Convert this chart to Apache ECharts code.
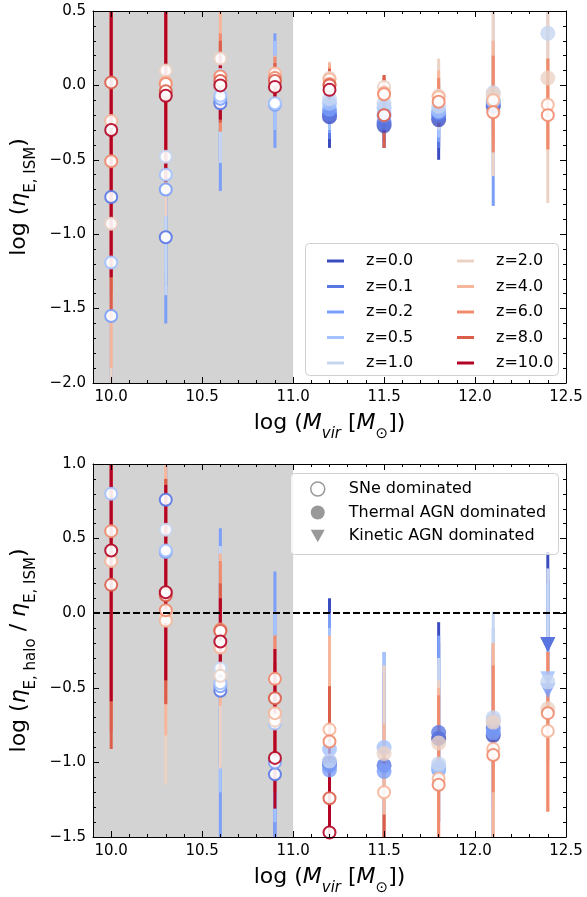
<!DOCTYPE html>
<html>
<head>
<meta charset="utf-8">
<script src="https://cdn.jsdelivr.net/npm/echarts@6/dist/echarts.min.js"></script>
<style>
html, body { margin: 0; padding: 0; background: #fff; }
#chart { width: 587px; height: 897px; }
</style>
</head>
<body>
<div id="chart"></div>
<script>
// redshift labels and their coolwarm colours
const redshifts = ['z=0.0', 'z=0.1', 'z=0.2', 'z=0.5', 'z=1.0', 'z=2.0', 'z=4.0', 'z=6.0', 'z=8.0', 'z=10.0']
const zColors = ['#3b4cc0', '#5a78e4', '#7b9ff9', '#a3c2fe', '#c6d6f1', '#ebd2c4', '#f6b69b', '#f08b6e', '#dc5d4a', '#b40426']

// axis ticks
const xMajorTicks = [10.0, 10.5, 11.0, 11.5, 12.0, 12.5]
const shadedRange = [9.9, 11.0]

// rows: [log Mvir, value, lower, upper, kind]  kind: S = SNe, T = thermal AGN, K = kinetic AGN
// top panel: log eta_E,ISM
const ismZ00 = [[11.2, -0.21, -0.42, -0.10, 'T'], [11.5, -0.27, -0.42, -0.15, 'T'], [11.8, -0.23, -0.50, -0.10, 'T'], [12.1, -0.14, -0.30, 0.00, 'T']]
const ismZ01 = [[10.0, -0.75, -1.45, -0.10, 'S'], [10.3, -1.02, -1.35, -0.60, 'S'], [10.6, -0.12, -0.50, 0.20, 'S'], [11.2, -0.19, -0.36, -0.05, 'T'], [11.5, -0.25, -0.38, -0.12, 'T'], [11.8, -0.20, -0.42, -0.05, 'T'], [12.1, -0.13, -0.35, 0.05, 'T']]
const ismZ02 = [[10.0, -1.55, -2.10, -1.00, 'S'], [10.3, -0.70, -1.60, -0.30, 'S'], [10.6, -0.09, -0.71, 0.25, 'S'], [10.9, -0.13, -0.42, 0.35, 'S'], [11.2, -0.16, -0.32, -0.02, 'T'], [11.5, -0.20, -0.35, -0.08, 'T'], [11.8, -0.18, -0.38, 0.00, 'T'], [12.1, -0.11, -0.81, 0.20, 'T']]
const ismZ05 = [[10.0, -1.19, -1.80, -0.60, 'S'], [10.3, -0.60, -1.25, -0.20, 'S'], [10.6, -0.07, -0.52, 0.30, 'S'], [10.9, -0.12, -0.30, 0.30, 'S'], [11.2, -0.12, -0.30, 0.00, 'T'], [11.5, -0.15, -0.30, -0.05, 'T'], [11.8, -0.17, -0.35, 0.02, 'T'], [12.1, -0.10, -0.60, 0.30, 'T']]
const ismZ10 = [[10.3, -0.48, -1.41, 0.00, 'S'], [10.6, 0.07, -0.52, 0.30, 'S'], [11.2, -0.09, -0.25, 0.02, 'T'], [11.5, -0.12, -0.25, 0.00, 'T'], [11.8, -0.14, -0.30, 0.05, 'T'], [12.1, -0.05, -0.60, 0.50, 'T'], [12.4, 0.35, 0.00, 0.60, 'T']]
const ismZ20 = [[10.0, -0.93, -2.50, 0.30, 'S'], [10.3, 0.10, -0.88, 0.60, 'S'], [10.6, 0.18, -0.30, 0.60, 'S'], [11.2, 0.05, -0.05, 0.16, 'S'], [11.5, -0.01, -0.20, 0.07, 'S'], [11.8, -0.07, -0.20, 0.18, 'S'], [12.1, -0.06, -0.61, 0.70, 'T'], [12.4, 0.05, -0.79, 0.70, 'T']]
const ismZ40 = [[10.0, -0.24, -1.90, 0.50, 'S'], [10.3, 0.02, -0.70, 0.55, 'S'], [10.6, 0.06, -0.31, 0.50, 'S'], [10.9, 0.08, -0.10, 0.20, 'S'], [11.2, 0.04, -0.10, 0.15, 'S'], [11.5, -0.05, -0.30, 0.06, 'S'], [11.8, -0.08, -0.25, 0.10, 'S'], [12.1, -0.10, -0.40, 0.30, 'S'], [12.4, -0.13, -0.43, 0.18, 'S']]
const ismZ60 = [[10.0, -0.51, -1.40, 0.60, 'S'], [10.3, 0.01, -0.60, 0.55, 'S'], [10.6, 0.06, -0.31, 0.35, 'S'], [10.9, 0.05, -0.10, 0.19, 'S'], [11.2, 0.01, -0.10, 0.12, 'S'], [11.5, -0.06, -0.30, 0.05, 'S'], [11.8, -0.11, -0.28, 0.05, 'S'], [12.1, -0.18, -0.45, 0.20, 'S'], [12.4, -0.20, -0.43, 0.18, 'S']]
const ismZ80 = [[10.0, 0.02, -1.57, 0.80, 'S'], [10.3, -0.04, -0.65, 0.60, 'S'], [10.6, 0.03, -0.25, 0.30, 'S'], [10.9, 0.03, -0.09, 0.15, 'S'], [11.2, 0.00, -0.09, 0.11, 'S'], [11.5, -0.20, -0.42, 0.07, 'S']]
const ismZ100 = [[10.0, -0.30, -1.29, 0.90, 'S'], [10.3, -0.07, -0.65, 0.70, 'S'], [10.6, 0.00, -0.23, 0.20, 'S'], [10.9, -0.01, -0.09, 0.12, 'S'], [11.2, -0.03, -0.09, 0.07, 'S']]

// bottom panel: log eta_E,halo / eta_E,ISM
const ratioZ00 = [[11.2, -1.00, -1.60, 0.10, 'T'], [11.8, -0.84, -1.20, -0.06, 'T'], [12.1, -0.82, -1.60, -0.20, 'T'], [12.4, -0.21, -0.50, 0.41, 'K']]
const ratioZ01 = [[10.0, 1.08, 0.50, 1.50, 'S'], [10.3, 0.76, 0.20, 1.20, 'S'], [10.6, -0.52, -1.00, 0.30, 'S'], [10.9, -1.08, -1.60, -0.30, 'S'], [11.2, -1.02, -1.50, -0.10, 'T'], [11.5, -1.02, -1.50, -0.40, 'T'], [11.8, -0.80, -1.10, -0.20, 'T'], [12.1, -0.77, -1.30, -0.30, 'T'], [12.4, -0.21, -0.50, 0.22, 'K']]
const ratioZ02 = [[10.3, 0.41, -0.20, 1.00, 'S'], [10.6, -0.49, -1.60, 0.57, 'S'], [10.9, -1.00, -1.60, 0.28, 'S'], [11.2, -1.05, -1.60, 0.00, 'T'], [11.5, -1.06, -1.50, -0.26, 'T'], [11.8, -1.05, -1.40, -0.15, 'T'], [12.1, -0.80, -1.50, -0.25, 'T'], [12.4, -0.52, -0.80, -0.10, 'K']]
const ratioZ05 = [[10.0, 0.80, 0.30, 1.30, 'S'], [10.3, 0.42, -0.10, 0.90, 'S'], [10.6, -0.47, -1.20, 0.40, 'S'], [10.9, -0.74, -1.40, 0.00, 'S'], [11.2, -0.91, -1.50, -0.10, 'T'], [11.5, -0.90, -1.50, -0.26, 'T'], [11.8, -1.03, -1.40, -0.33, 'T'], [12.1, -0.72, -1.50, -0.10, 'T'], [12.4, -0.44, -0.70, 0.20, 'K']]
const ratioZ10 = [[10.3, 0.56, 0.00, 1.05, 'S'], [10.6, -0.37, -1.00, 0.45, 'S'], [11.2, -0.99, -1.50, -0.20, 'T'], [11.8, -1.01, -1.40, -0.30, 'T'], [12.1, -0.70, -1.60, 0.01, 'T'], [12.4, -0.46, -0.80, 0.30, 'T']]
const ratioZ20 = [[10.3, -0.02, -1.15, 1.20, 'S'], [10.6, -0.42, -1.04, 0.30, 'S'], [10.9, -0.72, -1.20, -0.20, 'S'], [11.5, -0.94, -1.60, -0.35, 'T'], [11.8, -0.87, -1.40, -0.45, 'T'], [12.1, -0.73, -1.60, -0.20, 'T'], [12.4, -0.64, -1.00, -0.30, 'T']]
const ratioZ40 = [[10.0, 0.35, -0.50, 1.10, 'S'], [10.3, -0.05, -0.82, 1.10, 'S'], [10.6, -0.23, -0.62, 0.40, 'S'], [10.9, -0.67, -1.10, -0.15, 'S'], [11.2, -0.78, -1.60, -0.15, 'S'], [11.5, -1.20, -1.60, -0.74, 'S'], [11.8, -1.11, -1.60, -0.50, 'S'], [12.1, -0.91, -1.60, -0.20, 'S'], [12.4, -0.79, -1.33, -0.26, 'S']]
const ratioZ60 = [[10.0, 0.55, -0.80, 1.20, 'S'], [10.3, 0.02, -0.60, 0.90, 'S'], [10.6, -0.11, -0.50, 0.35, 'S'], [10.9, -0.44, -1.00, -0.15, 'S'], [11.2, -0.86, -1.60, -0.49, 'S'], [11.8, -1.15, -1.60, -0.55, 'S'], [12.1, -0.95, -1.20, -0.35, 'S'], [12.4, -0.67, -1.33, -0.26, 'S']]
const ratioZ80 = [[10.0, 0.19, -0.91, 1.20, 'S'], [10.3, 0.12, -0.61, 0.90, 'S'], [10.6, -0.12, -0.50, 0.20, 'S'], [10.9, -0.57, -1.20, -0.33, 'S'], [11.2, -1.24, -1.60, -0.49, 'S'], [11.5, -1.60, -1.80, -1.35, 'S']]
const ratioZ100 = [[10.0, 0.42, -0.59, 1.20, 'S'], [10.3, 0.14, -0.45, 0.86, 'S'], [10.6, -0.19, -0.45, 0.10, 'S'], [10.9, -0.97, -1.31, -0.24, 'S'], [11.2, -1.47, -1.60, -0.85, 'S']]

const ismRows = [ismZ00, ismZ01, ismZ02, ismZ05, ismZ10, ismZ20, ismZ40, ismZ60, ismZ80, ismZ100]
const ratioRows = [ratioZ00, ratioZ01, ratioZ02, ratioZ05, ratioZ10, ratioZ20, ratioZ40, ratioZ60, ratioZ80, ratioZ100]

const markerKinds = ['SNe dominated', 'Thermal AGN dominated', 'Kinetic AGN dominated']

const FONT = 'DejaVu Sans'
const X_MIN = 9.9
const X_MAX = 12.5
const xMinorTicks = []
for (let k = 99; k <= 125; k++) xMinorTicks.push(k / 10)

const fmt = v => (v < 0 ? '\u2212' : '') + Math.abs(v).toFixed(1)

const titleRich = {
  n: { fontSize: 22, lineHeight: 30, verticalAlign: 'top', fontFamily: FONT, color: '#000' },
  i: { fontSize: 22, lineHeight: 30, verticalAlign: 'top', fontStyle: 'italic', fontFamily: FONT, color: '#000' },
  s: { fontSize: 15, lineHeight: 16, verticalAlign: 'bottom', fontFamily: FONT, color: '#000' },
  si: { fontSize: 15, lineHeight: 16, verticalAlign: 'bottom', fontStyle: 'italic', fontFamily: FONT, color: '#000' }
}
const xTitle = '{n|log (}{i|M}{si|vir}{n| [}{i|M}{s|\u2299}{n|])}'

function xAxes(g) {
  const base = { gridIndex: g, type: 'value', min: X_MIN, max: X_MAX, z: 10, splitLine: { show: false } }
  const line = { show: true, onZero: false, lineStyle: { color: '#000', width: 1 } }
  const noLine = { show: false, onZero: false }
  const tick = (len, vals) => ({ show: true, inside: true, length: len, customValues: vals, lineStyle: { color: '#000', width: 1 } })
  return [
    {
      ...base, position: 'bottom', axisLine: line, axisTick: tick(6, xMajorTicks),
      axisLabel: { customValues: xMajorTicks, formatter: fmt, color: '#000', fontSize: 15, fontFamily: FONT, margin: 7 },
      name: xTitle, nameLocation: 'middle', nameGap: 29, nameTextStyle: { rich: titleRich }
    },
    { ...base, position: 'top', axisLine: line, axisTick: tick(6, xMajorTicks), axisLabel: { show: false } },
    { ...base, position: 'bottom', axisLine: noLine, axisTick: tick(3, xMinorTicks), axisLabel: { show: false } },
    { ...base, position: 'top', axisLine: noLine, axisTick: tick(3, xMinorTicks), axisLabel: { show: false } }
  ]
}

function yAxes(g, min, max, title) {
  const base = {
    gridIndex: g, type: 'value', min: min, max: max, interval: 0.5, z: 10,
    splitLine: { show: false },
    axisLine: { show: true, onZero: false, lineStyle: { color: '#000', width: 1 } },
    axisTick: { inside: true, length: 6, lineStyle: { color: '#000' } },
    minorTick: { show: true, splitNumber: 5, length: 3, lineStyle: { color: '#000' } }
  }
  return [
    {
      ...base, position: 'left',
      axisLabel: { formatter: fmt, color: '#000', fontSize: 15, fontFamily: FONT, margin: 7 },
      name: title, nameLocation: 'middle', nameGap: 50, nameTextStyle: { rich: titleRich }
    },
    { ...base, position: 'right', axisLabel: { show: false } }
  ]
}

function barSeries(rows, i, g) {
  const color = zColors[i]
  return {
    type: 'custom', name: redshifts[i], xAxisIndex: 4 * g, yAxisIndex: 2 * g, z: 2, clip: true, silent: true,
    itemStyle: { color: color },
    data: rows.map(r => [r[0], r[1], r[2], r[3]]),
    encode: { x: 0, y: 1 },
    renderItem: (params, api) => {
      const top = api.coord([api.value(0), api.value(3)])
      const bot = api.coord([api.value(0), api.value(2)])
      return {
        type: 'line',
        shape: { x1: top[0], y1: top[1], x2: bot[0], y2: bot[1] },
        style: { stroke: color, lineWidth: 3 }
      }
    }
  }
}

function markerStyle(kind, color) {
  if (kind === 'S') return { symbol: 'circle', symbolSize: 12, itemStyle: { color: '#fff', borderColor: color, borderWidth: 2, opacity: 0.9 } }
  if (kind === 'T') return { symbol: 'circle', symbolSize: 15, itemStyle: { color: color, opacity: 0.8 } }
  return { symbol: 'triangle', symbolRotate: 180, symbolSize: 15, itemStyle: { color: color, opacity: 0.85 } }
}

function markerSeries(rows, i, g) {
  return {
    type: 'scatter', name: redshifts[i], xAxisIndex: 4 * g, yAxisIndex: 2 * g, z: 4, clip: true, silent: true,
    itemStyle: { color: zColors[i] },
    data: rows.map(r => Object.assign({ value: [r[0], r[1]] }, markerStyle(r[4], zColors[i])))
  }
}

const series = []
// grey low-mass band on both panels
;[0, 1].forEach(g => {
  series.push({
    type: 'scatter', xAxisIndex: 4 * g, yAxisIndex: 2 * g, z: 1, silent: true, data: [],
    markArea: { silent: true, itemStyle: { color: '#d3d3d3' }, data: [[{ xAxis: shadedRange[0] }, { xAxis: shadedRange[1] }]] }
  })
})
// zero line on the ratio panel
series.push({
  type: 'scatter', xAxisIndex: 4, yAxisIndex: 2, z: 3, silent: true, data: [],
  markLine: {
    silent: true, symbol: ['none', 'none'], label: { show: false },
    lineStyle: { color: '#000', width: 2, type: [7, 3] },
    data: [{ yAxis: 0 }]
  }
})
ismRows.forEach((rows, i) => series.push(barSeries(rows, i, 0)))
ratioRows.forEach((rows, i) => series.push(barSeries(rows, i, 1)))
ismRows.forEach((rows, i) => series.push(markerSeries(rows, i, 0)))
ratioRows.forEach((rows, i) => series.push(markerSeries(rows, i, 1)))
markerKinds.forEach(name => series.push({ type: 'scatter', name: name, xAxisIndex: 4, yAxisIndex: 2, data: [], itemStyle: { color: '#808080' } }))

const legendText = {
  color: '#000',
  rich: { t: { fontSize: 16, fontFamily: FONT, lineHeight: 18, padding: [0, 0, 0, 17], color: '#000' } }
}
const zLegend = (names, left) => ({
  data: names.map(n => ({ name: n, itemStyle: { color: zColors[redshifts.indexOf(n)] } })),
  orient: 'vertical', left: left, top: 248, icon: 'rect', itemWidth: 17, itemHeight: 3, itemGap: 9.5,
  selectedMode: false, z: 20, formatter: n => '{t|' + n + '}', textStyle: legendText
})

const option = {
  animation: false,
  backgroundColor: '#fff',
  grid: [
    { left: 93, top: 11, width: 473, height: 372 },
    { left: 93, top: 464, width: 473, height: 373 }
  ],
  xAxis: [...xAxes(0), ...xAxes(1)],
  yAxis: [
    ...yAxes(0, -2.0, 0.5, '{n|log (}{i|\u03b7}{s|E, ISM}{n|)}'),
    ...yAxes(1, -1.5, 1.0, '{n|log (}{i|\u03b7}{s|E, halo}{n| / }{i|\u03b7}{s|E, ISM}{n|)}')
  ],
  legend: [
    zLegend(redshifts.slice(0, 5), 322),
    zLegend(redshifts.slice(5), 452),
    {
      data: [
        { name: markerKinds[0], icon: 'circle', itemStyle: { color: '#fff', borderColor: '#808080', borderWidth: 1.5 } },
        { name: markerKinds[1], icon: 'circle', itemStyle: { color: '#808080' } },
        { name: markerKinds[2], icon: 'path://M0,0L10,0L5,9Z', itemStyle: { color: '#808080' } }
      ],
      orient: 'vertical', left: 305, top: 476, itemWidth: 14, itemHeight: 14, itemGap: 7.5,
      selectedMode: false, z: 20, formatter: n => '{t|' + n + '}',
      textStyle: { color: '#000', rich: { t: { fontSize: 16, fontFamily: FONT, lineHeight: 18, padding: [0, 0, 0, 19], color: '#000' } } }
    }
  ],
  graphic: [
    { type: 'rect', left: 305, top: 243, z: 15, shape: { width: 253, height: 132, r: 4 }, style: { fill: 'rgba(255,255,255,0.8)', stroke: '#d0d0d0', lineWidth: 1 } },
    { type: 'rect', left: 290, top: 473, z: 15, shape: { width: 268, height: 81, r: 4 }, style: { fill: 'rgba(255,255,255,0.8)', stroke: '#d0d0d0', lineWidth: 1 } }
  ],
  series: series
}

const chart = echarts.init(document.getElementById('chart'))
chart.setOption(option)
</script>
</body>
</html>
